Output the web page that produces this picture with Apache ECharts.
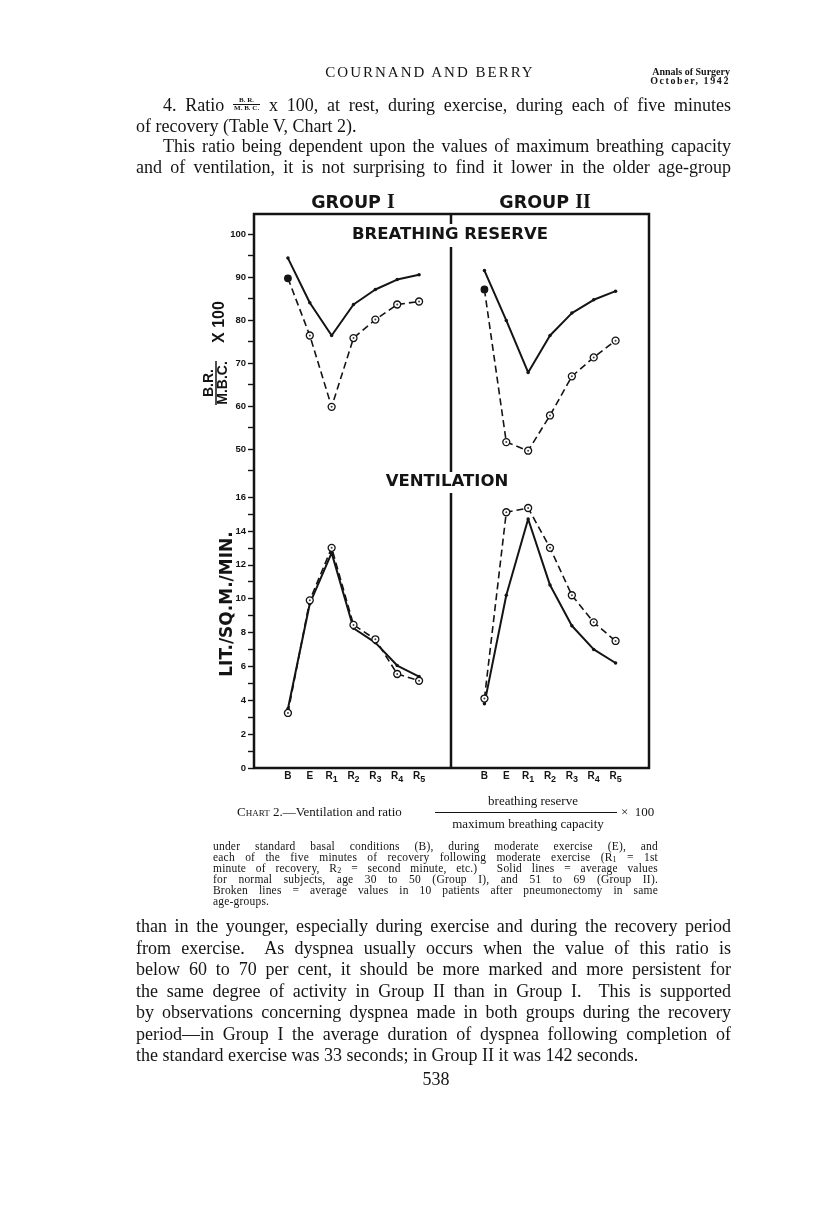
<!DOCTYPE html>
<html>
<head>
<meta charset="utf-8">
<script src="https://cdn.jsdelivr.net/npm/echarts@6/dist/echarts.min.js"></script>
<style>
  html, body { margin: 0; padding: 0; background: #fff; }
  #page { position: relative; width: 816px; height: 1227px; overflow: hidden; background: #fff; color: #141414; }
  #chart { position: absolute; left: 0; top: 0; width: 816px; height: 1227px; }
  .ln { position: absolute; left: 136px; font: 18px/21.5px "Liberation Serif", serif; white-space: nowrap; }
  .ind { left: 163px; }
  .frac { display: inline-block; vertical-align: 1px; text-align: center; word-spacing: normal;
          font: bold 7px/7px "Liberation Serif", serif; }
  .frac span { display: block; padding: 0 1px; }
  .frac .num { border-bottom: 1px solid #141414; }
  .cap { position: absolute; font: 13px/13px "Liberation Serif", serif; white-space: nowrap; }
  .cp { position: absolute; left: 213px; font: 11.5px/11px "Liberation Serif", serif; white-space: nowrap; letter-spacing: 0.2px; }
  .sb { font-size: 8px; vertical-align: -1px; }
</style>
</head>
<body>
<div id="page">
  <div id="chart"></div>

  <div style="position:absolute;left:230px;top:65px;width:400px;text-align:center;font:15px/15px 'Liberation Serif',serif;letter-spacing:2px;">COURNAND AND BERRY</div>
  <div style="position:absolute;right:86px;top:67px;text-align:right;font:bold 10px/9px 'Liberation Serif',serif;">Annals of Surgery<br><span style="letter-spacing:1.6px">October, 1942</span></div>

  <div class="ln ind j" data-w="568" style="top:95px">4. Ratio <span class="frac"><span class="num">B. R.</span><span>M. B. C.</span></span> x 100, at rest, during exercise, during each of five minutes</div>
  <div class="ln" style="top:116px">of recovery (Table V, Chart 2).</div>
  <div class="ln ind j" data-w="568" style="top:136px">This ratio being dependent upon the values of maximum breathing capacity</div>
  <div class="ln j" data-w="595" style="top:157px">and of ventilation, it is not surprising to find it lower in the older age-group</div>

  <div class="cap" style="left:433px;width:200px;text-align:center;top:794px">breathing reserve</div>
  <div class="cap" style="left:237px;top:805px"><span style="font-variant:small-caps">Chart</span> 2.—Ventilation and ratio</div>
  <div style="position:absolute;left:435px;top:812px;width:182px;border-top:1px solid #141414;"></div>
  <div class="cap" style="left:621px;top:805px">×&nbsp;&nbsp;100</div>
  <div class="cap" style="left:428px;width:200px;text-align:center;top:817px">maximum breathing capacity</div>

  <div class="cp j" data-w="445" style="top:841px">under standard basal conditions (B), during moderate exercise (E), and</div>
  <div class="cp j" data-w="445" style="top:852px">each of the five minutes of recovery following moderate exercise (R<span class="sb">1</span> = 1st</div>
  <div class="cp j" data-w="445" style="top:863px">minute of recovery, R<span class="sb">2</span> = second minute, etc.)&nbsp; Solid lines = average values</div>
  <div class="cp j" data-w="445" style="top:874px">for normal subjects, age 30 to 50 (Group I), and 51 to 69 (Group II).</div>
  <div class="cp j" data-w="445" style="top:885px">Broken lines = average values in 10 patients after pneumonectomy in same</div>
  <div class="cp" style="top:896px">age-groups.</div>

  <div class="ln j" data-w="595" style="top:916px">than in the younger, especially during exercise and during the recovery period</div>
  <div class="ln j" data-w="595" style="top:938px">from exercise.&nbsp; As dyspnea usually occurs when the value of this ratio is</div>
  <div class="ln j" data-w="595" style="top:959px">below 60 to 70 per cent, it should be more marked and more persistent for</div>
  <div class="ln j" data-w="595" style="top:981px">the same degree of activity in Group II than in Group I.&nbsp; This is supported</div>
  <div class="ln j" data-w="595" style="top:1002px">by observations concerning dyspnea made in both groups during the recovery</div>
  <div class="ln j" data-w="595" style="top:1024px">period—in Group I the average duration of dyspnea following completion of</div>
  <div class="ln" style="top:1045px">the standard exercise was 33 seconds; in Group II it was 142 seconds.</div>
  <div style="position:absolute;left:386px;width:100px;text-align:center;top:1069px;font:18px/21.5px 'Liberation Serif',serif;">538</div>
</div>

<script>
// stages on the x axis
var stages = ['B', 'E', 'R1', 'R2', 'R3', 'R4', 'R5'];

// breathing reserve / max breathing capacity x 100
var reserveGroup1Normal = [94.4, 84.0, 76.4, 83.6, 87.1, 89.4, 90.5];
var reserveGroup1Pneum  = [89.7, 76.4, 59.8, 75.8, 80.1, 83.6, 84.3];
var reserveGroup2Normal = [91.5, 79.9, 67.8, 76.4, 81.6, 84.7, 86.7];
var reserveGroup2Pneum  = [87.1, 51.6, 49.6, 57.8, 66.9, 71.3, 75.2];

// ventilation, lit./sq.m./min.
var ventGroup1Normal = [3.5, 9.7, 12.7, 8.25, 7.4, 6.05, 5.4];
var ventGroup1Pneum  = [3.25, 9.9, 13.0, 8.45, 7.6, 5.55, 5.15];
var ventGroup2Normal = [3.8, 10.2, 14.7, 10.8, 8.4, 7.0, 6.2];
var ventGroup2Pneum  = [4.1, 15.1, 15.35, 13.0, 10.2, 8.6, 7.5];

// stretch each full text line to its measure, like the printed page
var justifyLines = function() {
    var lines = document.querySelectorAll('.j');
    for (var i = 0; i < lines.length; i++) {
        var el = lines[i];
        var target = parseFloat(el.getAttribute('data-w'));
        var natural = el.getBoundingClientRect().width;
        var gaps = 0;
        var walker = document.createTreeWalker(el, NodeFilter.SHOW_TEXT, null);
        var node;
        while ((node = walker.nextNode())) {
            if (node.parentNode.closest('.frac')) continue;
            var m = node.nodeValue.match(/[ \u00a0]/g);
            if (m) gaps += m.length;
        }
        if (gaps > 0) el.style.wordSpacing = ((target - natural) / gaps) + 'px';
    }
};
justifyLines();

var ink = '#141414';
var chartDom = document.getElementById('chart');
var myChart = echarts.init(chartDom, null, { renderer: 'canvas' });

var stageLabel = function(v) {
    if (v.length > 1) return '{m|' + v.charAt(0) + '}{s|' + v.substr(1) + '}';
    return '{m|' + v + '}';
};

var makeX = function(gi, showLabels) {
    return {
        type: 'category', gridIndex: gi, data: stages, boundaryGap: true,
        axisLine: { show: false }, axisTick: { show: false }, splitLine: { show: false },
        axisLabel: {
            show: showLabels, interval: 0, margin: 3, formatter: stageLabel,
            rich: {
                m: { fontFamily: 'Liberation Sans', fontWeight: 'bold', fontSize: 10, color: ink, lineHeight: 13, verticalAlign: 'top' },
                s: { fontFamily: 'Liberation Sans', fontWeight: 'bold', fontSize: 9, color: ink, lineHeight: 13, padding: [4, 0, 0, 0], verticalAlign: 'bottom' }
            }
        }
    };
};

var makeY = function(gi, min, max, step, labelStep, visible) {
    return {
        type: 'value', gridIndex: gi, min: min, max: max, interval: step,
        show: visible, offset: 23,
        axisLine: { show: false },
        axisTick: { show: true, inside: false, length: 6, lineStyle: { color: ink, width: 1.4 } },
        splitLine: { show: false },
        axisLabel: {
            margin: 8, fontFamily: 'Liberation Sans', fontWeight: 'bold', fontSize: 9.5, color: ink,
            formatter: function(v) { return v % labelStep === 0 ? String(v) : ''; }
        }
    };
};

var solidLine = function(gi, data) {
    return {
        type: 'line', xAxisIndex: gi, yAxisIndex: gi, data: data, silent: true,
        symbol: 'circle', symbolSize: 3.5, showAllSymbol: true,
        lineStyle: { color: ink, width: 2 }, itemStyle: { color: ink }, z: 3
    };
};

var brokenLine = function(gi, data, firstFilled) {
    var pts = data.map(function(v, i) {
        if (i === 0 && firstFilled) {
            return { value: v, symbolSize: 6.5, itemStyle: { color: ink, borderColor: ink } };
        }
        return v;
    });
    return {
        type: 'line', xAxisIndex: gi, yAxisIndex: gi, data: pts, silent: true,
        symbol: 'circle', symbolSize: 7, showAllSymbol: true,
        lineStyle: { color: ink, width: 1.6, type: [7, 4] },
        itemStyle: { color: '#fff', borderColor: ink, borderWidth: 1.3 }, z: 4
    };
};

var centerDots = function(gi, data) {
    return {
        type: 'scatter', xAxisIndex: gi, yAxisIndex: gi, data: data, silent: true,
        symbolSize: 2, itemStyle: { color: ink }, z: 6
    };
};

var bold = function(size, family) {
    return 'bold ' + size + 'px "' + (family || 'DejaVu Sans') + '"';
};

var option = {
    animation: false,
    backgroundColor: 'transparent',
    grid: [
        { left: 277, top: 234, width: 153, height: 236.5 },
        { left: 473.5, top: 234, width: 153, height: 236.5 },
        { left: 277, top: 497, width: 153, height: 271 },
        { left: 473.5, top: 497, width: 153, height: 271 }
    ],
    xAxis: [makeX(0, false), makeX(1, false), makeX(2, true), makeX(3, true)],
    yAxis: [
        makeY(0, 45, 100, 5, 10, true),
        makeY(1, 45, 100, 5, 10, false),
        makeY(2, 0, 16, 1, 2, true),
        makeY(3, 0, 16, 1, 2, false)
    ],
    series: [
        solidLine(0, reserveGroup1Normal),
        brokenLine(0, reserveGroup1Pneum, true),
        centerDots(0, reserveGroup1Pneum.slice(1).map(function(v, i) { return [i + 1, v]; })),
        solidLine(1, reserveGroup2Normal),
        brokenLine(1, reserveGroup2Pneum, true),
        centerDots(1, reserveGroup2Pneum.slice(1).map(function(v, i) { return [i + 1, v]; })),
        solidLine(2, ventGroup1Normal),
        brokenLine(2, ventGroup1Pneum, false),
        centerDots(2, ventGroup1Pneum),
        solidLine(3, ventGroup2Normal),
        brokenLine(3, ventGroup2Pneum, false),
        centerDots(3, ventGroup2Pneum)
    ],
    graphic: [
        // frame and middle divider
        { type: 'rect', shape: { x: 254, y: 214, width: 395, height: 554 },
          style: { fill: null, stroke: ink, lineWidth: 2.5 }, silent: true },
        { type: 'line', shape: { x1: 451, y1: 214, x2: 451, y2: 224 }, style: { stroke: ink, lineWidth: 2.5 } },
        { type: 'line', shape: { x1: 451, y1: 247, x2: 451, y2: 472 }, style: { stroke: ink, lineWidth: 2.5 } },
        { type: 'line', shape: { x1: 451, y1: 493, x2: 451, y2: 768 }, style: { stroke: ink, lineWidth: 2.5 } },
        // headings
        { type: 'text', x: 353, y: 203, style: {
            text: '{a|GROUP }{b|I}', align: 'center', verticalAlign: 'middle',
            rich: { a: { font: bold(17.5), fill: ink }, b: { font: bold(20, 'Liberation Serif'), fill: ink } } } },
        { type: 'text', x: 545, y: 203, style: {
            text: '{a|GROUP }{b|II}', align: 'center', verticalAlign: 'middle',
            rich: { a: { font: bold(17.5), fill: ink }, b: { font: bold(20, 'Liberation Serif'), fill: ink } } } },
        { type: 'text', x: 450, y: 235, style: { text: 'BREATHING RESERVE', font: bold(16.5), fill: ink, align: 'center', verticalAlign: 'middle' } },
        { type: 'text', x: 447, y: 482, style: { text: 'VENTILATION', font: bold(16.5), fill: ink, align: 'center', verticalAlign: 'middle' } },
        // y axis names, rotated
        { type: 'group', x: 216, y: 350, rotation: Math.PI / 2, children: [
            { type: 'text', x: -33, y: -7, style: { text: 'B.R.', font: bold(14, 'Liberation Sans'), fill: ink, align: 'center', verticalAlign: 'middle' } },
            { type: 'line', shape: { x1: -55, y1: 0, x2: -11, y2: 0 }, style: { stroke: ink, lineWidth: 1.5 } },
            { type: 'text', x: -33, y: 7, style: { text: 'M.B.C.', font: bold(14, 'Liberation Sans'), fill: ink, align: 'center', verticalAlign: 'middle' } },
            { type: 'text', x: 28, y: 4, style: { text: 'X 100', font: bold(16, 'Liberation Sans'), fill: ink, align: 'center', verticalAlign: 'middle' } }
        ] },
        { type: 'text', x: 228, y: 604, rotation: Math.PI / 2,
          style: { text: 'LIT./SQ.M./MIN.', font: bold(17), fill: ink, align: 'center', verticalAlign: 'middle' } }
    ]
};

myChart.setOption(option);
</script>
</body>
</html>
